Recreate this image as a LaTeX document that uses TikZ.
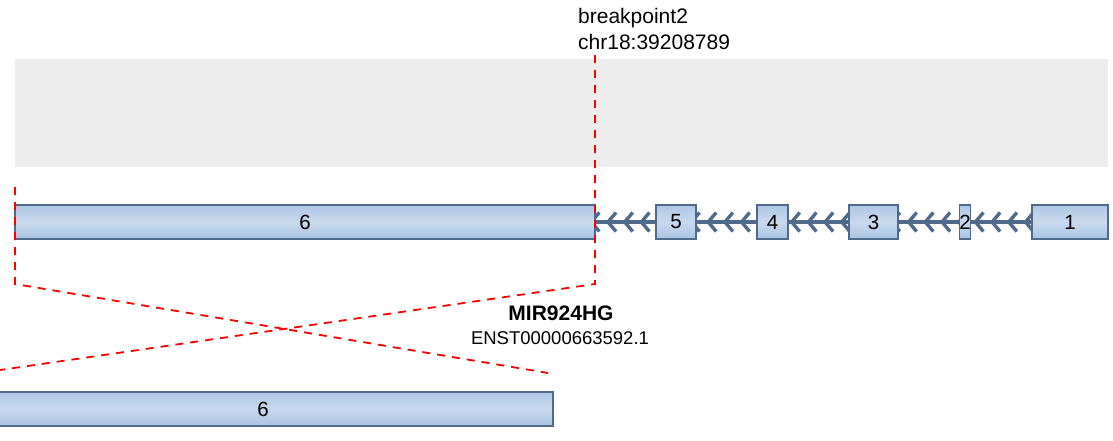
\documentclass[tikz,border=0pt]{standalone}
\usepackage{fontspec}
\setmainfont{Liberation Sans}
\definecolor{bandgrey}{HTML}{EDEDED}
\definecolor{exonline}{HTML}{4F6A8B}
\definecolor{exontop}{HTML}{AEC6E4}
\definecolor{exonmid}{HTML}{C8D9EE}
\definecolor{exonbot}{HTML}{A9C3E3}
\definecolor{intron}{HTML}{4F6A8B}
\definecolor{bpred}{HTML}{FF0000}
\tikzset{
  exon/.style={draw=exonline, line width=1.3pt, top color=exontop, bottom color=exonbot, middle color=exonmid,
    inner sep=0pt, outer sep=0pt, minimum height=34pt, anchor=center, font=\fontsize{20.5}{24}\selectfont},
  chev/.style={draw=intron, line width=3.4pt, line cap=butt, line join=miter},
  intronline/.style={draw=intron, line width=3.4pt},
  bp/.style={draw=bpred, line width=1.8pt, dash pattern=on 8pt off 7pt},
  lbl/.style={inner sep=0pt, font=\fontsize{21}{24}\selectfont},
  lblsmall/.style={inner sep=0pt, font=\fontsize{18.5}{22}\selectfont},
}
\begin{document}
\begin{tikzpicture}[x=1pt,y=-1pt]
\useasboundingbox (0,0) rectangle (1113,440);
% grey band
\fill[bandgrey] (15,59) rectangle (1108,167);
% intron line
\coordinate (intL) at (595,222);
\coordinate (intR) at (1032,222);
\draw[intronline] (intL) -- (intR);
% chevrons
\foreach \i in {0,...,26}{
  \pgfmathsetmacro{\tx}{591.3+16.7*\i}
  \draw[chev] (\tx+8,212.5) -- (\tx,222) -- (\tx+8,231.5);
}
% exons
\node[exon, minimum width=580pt] (e6) at (305,222) {6};
\node[exon, minimum width=40pt] (e5) at (676,222) {5};
\node[exon, minimum width=31pt] (e4) at (772.5,222) {4};
\node[exon, minimum width=49pt] (e3) at (873.5,222) {3};
\node[exon, minimum width=10pt] (e2) at (965,222) {2};
\node[exon, minimum width=76pt] (e1) at (1070,222) {1};
% bottom exon
\node[exon, minimum width=580pt] (b6) at (263,409) {6};
% labels
\node[lbl, anchor=base west] (bpname) at (578,23) {breakpoint2};
\node[lbl, anchor=base west] (bppos) at (578,49) {chr18:39208789};
\node[lbl, anchor=base, font=\fontsize{21}{24}\selectfont\bfseries] (gene) at (561,320) {MIR924HG};
\node[lblsmall, anchor=base] (tx) at (560,344) {ENST00000663592.1};
% breakpoint lines
\coordinate (bpTop) at (595,55);
\coordinate (bpCorner) at (595,284);
\coordinate (bpEnd) at (0,370);
\coordinate (lTop) at (15,187);
\coordinate (lCorner) at (15,284);
\coordinate (lEnd) at (548,373);
\draw[bp] (bpTop) -- (bpCorner) -- (bpEnd);
\draw[bp] (lTop) -- (lCorner) -- (lEnd);
\end{tikzpicture}
\end{document}
